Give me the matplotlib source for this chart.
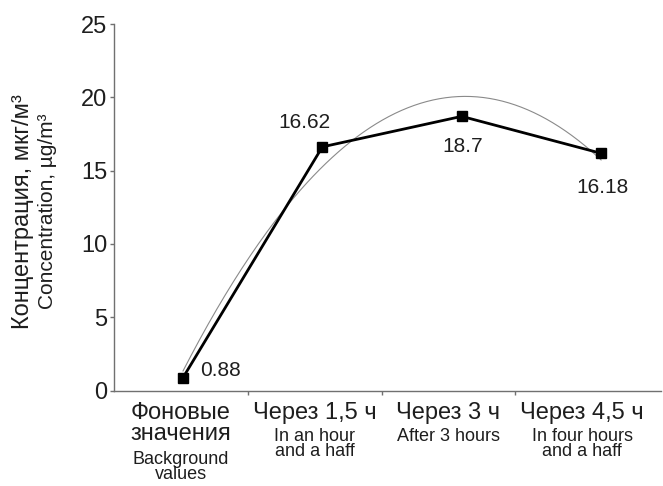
import numpy as np
import matplotlib
matplotlib.use('Agg')
import matplotlib.pyplot as plt

plt.rcParams['font.family'] = ['Liberation Sans', 'DejaVu Sans']
plt.rcParams['text.color'] = '#1e1e1e'
plt.rcParams['ytick.labelcolor'] = '#1e1e1e'

# data
categories_ru = ['Фоновые\nзначения', 'Через 1,5 ч', 'Через 3 ч', 'Через 4,5 ч']
categories_en = ['Background\nvalues', 'In an hour\nand a haff', 'After 3 hours', 'In four hours\nand a haff']
values = [0.88, 16.62, 18.7, 16.18]
value_labels = ['0.88', '16.62', '18.7', '16.18']
yticks = [0, 5, 10, 15, 20, 25]

x = np.arange(len(values))

fig = plt.figure(figsize=(6.63, 4.86), dpi=100)
ax = fig.add_axes([0.172, 0.1965, 0.825, 0.7541])

# quadratic trend line
coef = np.polyfit(x, values, 2)
xs = np.linspace(x[0], x[-1], 200)
ax.plot(xs, np.polyval(coef, xs), color='#8a8a8a', lw=0.8, zorder=2)

ax.plot(x, values, color='black', lw=2, marker='s', markersize=7, zorder=3)

# data labels (pixel offsets from the point to the label centre)
offsets = [(37, 7), (-18, 24), (1, -30), (1, -34)]
for xi, v, lab, (dx, dy) in zip(x, values, value_labels, offsets):
    ax.annotate(lab, (xi, v), xytext=(dx, dy), textcoords='offset pixels',
                ha='center', va='center', fontsize=15)

ax.set_xlim(-0.495, 3.43)
ax.set_ylim(0, 25)
ax.set_yticks(yticks)
ax.tick_params(axis='y', labelsize=17, length=3, width=1, color='#707070', pad=2)

# category axis: separators and labels
cat_w = 0.96
start = -0.495
ax.set_xticks([start + cat_w * k for k in range(1, len(values))])
ax.set_xticklabels([])
ax.tick_params(axis='x', length=3, width=1, color='#707070')
for i, (ru, en) in enumerate(zip(categories_ru, categories_en)):
    cx = start + cat_w * (i + 0.5)
    ax.annotate(ru, (cx, 0), xycoords=('data', 'axes fraction'), xytext=(0, -11),
                textcoords='offset pixels', ha='center', va='top', fontsize=17,
                linespacing=0.95)
    dy = -60 if '\n' in ru else -37
    ax.annotate(en, (cx, 0), xycoords=('data', 'axes fraction'), xytext=(0, dy),
                textcoords='offset pixels', ha='center', va='top', fontsize=13,
                linespacing=0.9)

for s in ['top', 'right']:
    ax.spines[s].set_visible(False)
for s in ['left', 'bottom']:
    ax.spines[s].set_color('#707070')
    ax.spines[s].set_linewidth(1)

fig.text(0.035, 0.565, 'Концентрация, мкг/м³', rotation=90, ha='center', va='center', fontsize=17)
fig.text(0.071, 0.565, 'Concentration, µg/m³', rotation=90, ha='center', va='center', fontsize=15)

fig.savefig('out.png', dpi=100)
